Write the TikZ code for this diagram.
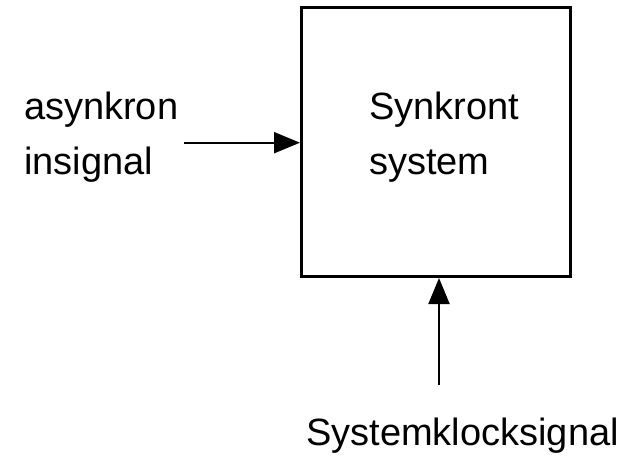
\documentclass[tikz,border=0pt]{standalone}
\usepackage{fontspec}
\setmainfont{Liberation Sans}
\usetikzlibrary{arrows.meta}
\begin{document}
\begin{tikzpicture}[x=1pt,y=1pt,line width=2pt,
	sig/.style={-{Triangle[length=26pt,width=21pt]}},
	lbl/.style={align=left,inner sep=0pt,font=\fontsize{38}{55}\selectfont}]
			\useasboundingbox (0,0) rectangle (629,456);
			\node [draw,line width=3pt,minimum width=269pt,minimum height=268.5pt,inner sep=0pt] (sys) at (436,313.75) {};
			\node [lbl,anchor=west] (syst) at (368,319) {Synkront\\system};
			\node [lbl,anchor=west] (in) at (23,319) {asynkron\\insignal};
			\node [lbl,anchor=base] (clk) at (462.5,11) {Systemklocksignal};
			\coordinate (a) at (184,313.3);
			\coordinate (b) at (439,71);
			\draw [sig] (a) -- (a -| sys.west);
			\draw [sig] (b) -- (b |- sys.south);
		\end{tikzpicture}
\end{document}
